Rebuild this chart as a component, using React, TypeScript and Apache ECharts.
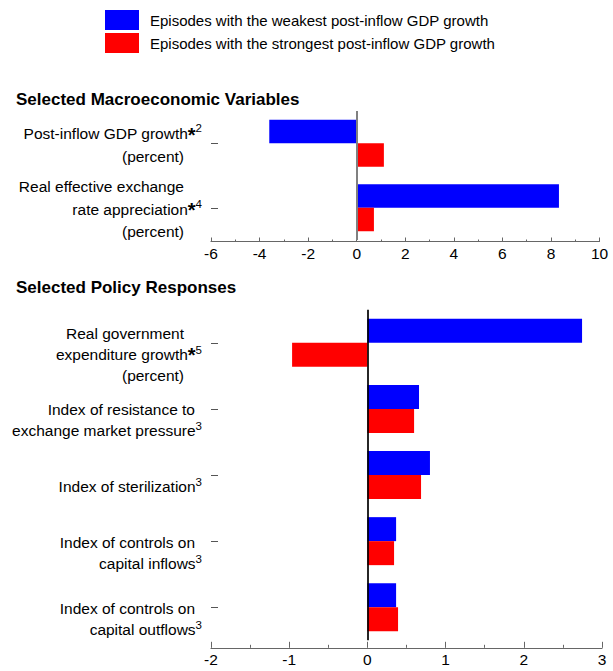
import React, { useEffect, useRef } from "react";
import * as echarts from "echarts";

const seriesNames = [
  "Episodes with the weakest post-inflow GDP growth",
  "Episodes with the strongest post-inflow GDP growth",
];
const panelTitles = ["Selected Macroeconomic Variables", "Selected Policy Responses"];

const topCategories = [
  "Post-inflow GDP growth^*2\n(percent)",
  "Real effective exchange\nrate appreciation^*4\n(percent)",
];
const topWeakest = [-3.6, 8.33];
const topStrongest = [1.12, 0.71];
const topTicks = { min: -6, max: 10, interval: 2 };

const bottomCategories = [
  "Real government\nexpenditure growth^*5\n(percent)",
  "Index of resistance to\nexchange market pressure^3",
  "Index of sterilization^3",
  "Index of controls on\ncapital inflows^3",
  "Index of controls on\ncapital outflows^3",
];
const bottomWeakest = [2.745, 0.66, 0.8, 0.367, 0.367];
const bottomStrongest = [-0.963, 0.597, 0.686, 0.341, 0.392];
const bottomTicks = { min: -2, max: 3, interval: 1 };

const BLUE = "#0000ff";
const RED = "#ff0000";
const FONT = "'Liberation Sans', Arial, sans-serif";

function labelFormatter(value: string) {
  const lines = value.split("\n");
  const supLine = lines.find((l) => l.includes("^")) || "";
  const sup = supLine.split("^")[1] || "";
  const spacer = sup.startsWith("*") ? "spA" : "spD";
  return lines
    .map((l) => {
      if (l.includes("^")) {
        const [main, s] = l.split("^");
        if (s.startsWith("*")) return `{t|${main}}{ast|*}{sup|${s.slice(1)}}`;
        return `{t|${main}}{sup|${s}}`;
      }
      return `{t|${l}}{${spacer}|\u00a0}`;
    })
    .join("\n");
}

function richStyles(lineHeight: number) {
  return {
    t: { fontSize: 15.5, lineHeight, color: "#000", fontFamily: FONT, verticalAlign: "middle", align: "right" },
    ast: {
      fontSize: 20,
      fontWeight: "bold",
      lineHeight,
      color: "#000",
      fontFamily: FONT,
      verticalAlign: "middle",
      align: "right",
      padding: [2, 0, 0, 0],
    },
    sup: { fontSize: 11.5, lineHeight: 14, color: "#000", fontFamily: FONT, verticalAlign: "top", align: "right" },
    spA: { width: 18, lineHeight, fontSize: 11, align: "right" },
    spD: { width: 7, lineHeight, fontSize: 11, align: "right" },
  };
}

export default function App() {
  const ref = useRef<HTMLDivElement>(null);
  useEffect(() => {
    if (!ref.current) return;
    const chart = echarts.init(ref.current, undefined, { renderer: "svg" });
    const option: any = {
      animation: false,
      backgroundColor: "#fff",
      textStyle: { fontFamily: FONT },
      title: [
        {
          text: panelTitles[0],
          left: 16,
          top: 91,
          padding: 0,
          textStyle: { fontSize: 17, fontWeight: "bold", color: "#000", fontFamily: FONT },
        },
        {
          text: panelTitles[1],
          left: 16,
          top: 279,
          padding: 0,
          textStyle: { fontSize: 17, fontWeight: "bold", color: "#000", fontFamily: FONT },
        },
      ],
      legend: {
        data: seriesNames,
        orient: "vertical",
        left: 105,
        top: 10,
        padding: 0,
        itemWidth: 34,
        itemHeight: 20,
        itemGap: 3,
        icon: "rect",
        selectedMode: false,
        textStyle: { fontSize: 15, color: "#000", fontFamily: FONT, padding: [0, 0, 0, 6] },
      },
      grid: [
        { left: 211, right: 13.5, top: 111, height: 129, containLabel: false },
        { left: 211, right: 11, top: 309.8, height: 330.5, containLabel: false },
      ],
      xAxis: [
        {
          type: "value",
          gridIndex: 0,
          ...topTicks,
          offset: 1.5,
          axisLine: { show: true, onZero: false, lineStyle: { color: "#666", width: 1.2 } },
          axisTick: { show: true, inside: true, length: 4, lineStyle: { color: "#666" } },
          minorTick: { show: true, splitNumber: 2, length: 2, lineStyle: { color: "#666" } },
          splitLine: { show: false },
          axisLabel: { margin: 4, fontSize: 15.5, color: "#000", fontFamily: FONT },
        },
        {
          type: "value",
          gridIndex: 1,
          ...bottomTicks,
          offset: 7.5,
          axisLine: { show: true, onZero: false, lineStyle: { color: "#666", width: 1.2 } },
          axisTick: { show: true, inside: true, length: 6, lineStyle: { color: "#666" } },
          minorTick: { show: true, splitNumber: 2, length: 3, lineStyle: { color: "#666" } },
          splitLine: { show: false },
          axisLabel: { margin: 4, fontSize: 15.5, color: "#000", fontFamily: FONT },
        },
      ],
      yAxis: [
        {
          type: "category",
          gridIndex: 0,
          data: topCategories,
          inverse: true,
          axisLine: { show: false, onZero: false },
          axisTick: { show: true, inside: true, alignWithLabel: true, length: 7, lineStyle: { color: "#555" } },
          axisLabel: {
            margin: 9,
            padding: [3, 0, 0, 0],
            formatter: labelFormatter,
            rich: richStyles(22.5),
          },
        },
        {
          type: "category",
          gridIndex: 1,
          data: bottomCategories,
          inverse: true,
          axisLine: { show: false, onZero: false },
          axisTick: { show: true, inside: true, alignWithLabel: true, length: 7, lineStyle: { color: "#555" } },
          axisLabel: {
            margin: 9,
            padding: [23, 0, 0, 0],
            formatter: labelFormatter,
            rich: richStyles(21),
          },
        },
      ],
      series: [
        {
          name: seriesNames[0],
          type: "bar",
          xAxisIndex: 0,
          yAxisIndex: 0,
          data: topWeakest,
          barWidth: 23.5,
          barGap: "0%",
          itemStyle: { color: BLUE },
          markLine: {
            silent: true,
            symbol: ["none", "none"],
            label: { show: false },
            lineStyle: { color: "#808080", width: 2, type: "solid" },
            data: [{ xAxis: 0 }],
          },
        },
        {
          name: seriesNames[1],
          type: "bar",
          xAxisIndex: 0,
          yAxisIndex: 0,
          data: topStrongest,
          barWidth: 23.5,
          barGap: "0%",
          itemStyle: { color: RED },
        },
        {
          name: seriesNames[0],
          type: "bar",
          xAxisIndex: 1,
          yAxisIndex: 1,
          data: bottomWeakest,
          barWidth: 24,
          barGap: "0%",
          itemStyle: { color: BLUE },
          markLine: {
            silent: true,
            symbol: ["none", "none"],
            label: { show: false },
            lineStyle: { color: "#000", width: 1.7, type: "solid" },
            data: [{ xAxis: 0 }],
          },
        },
        {
          name: seriesNames[1],
          type: "bar",
          xAxisIndex: 1,
          yAxisIndex: 1,
          data: bottomStrongest,
          barWidth: 24,
          barGap: "0%",
          itemStyle: { color: RED },
        },
      ],
    };
    chart.setOption(option);
    return () => chart.dispose();
  }, []);
  return (
    <div
      ref={ref}
      style={{ position: "fixed", left: 0, top: 0, width: 613, height: 671, background: "#fff" }}
    />
  );
}
